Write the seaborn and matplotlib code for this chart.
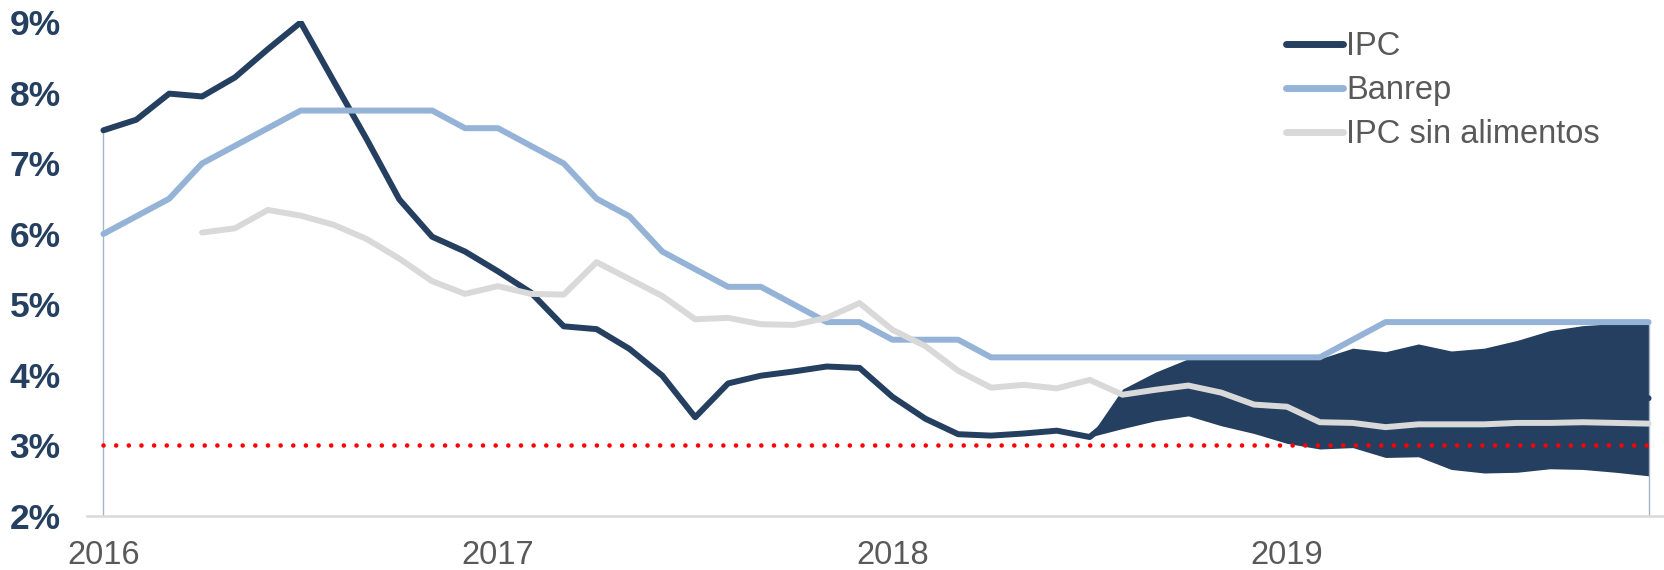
import numpy as np
import pandas as pd
import seaborn as sns
import matplotlib.pyplot as plt

# monthly, Jan 2016 .. Dec 2019
months = pd.date_range("2016-01-01", "2019-12-01", freq="MS")
year_labels = ["2016", "2017", "2018", "2019"]
year_ticks = [0, 12, 24, 36]

ipc = [7.47, 7.62, 7.99, 7.95, 8.22, 8.62, 9.00, 8.17, 7.35, 6.49, 5.96, 5.75,
       5.47, 5.17, 4.69, 4.65, 4.37, 3.99, 3.40, 3.88, 3.99, 4.05, 4.12, 4.10,
       3.69, 3.38, 3.16, 3.14, 3.17, 3.21, 3.12, 3.50, 3.70, 3.85, 3.75, 3.70,
       3.65, 3.60, 3.65, 3.60, 3.65, 3.60, 3.60, 3.62, 3.65, 3.67, 3.67, 3.67]

banrep = [6.00, 6.25, 6.50, 7.00, 7.25, 7.50, 7.75, 7.75, 7.75, 7.75, 7.75, 7.50,
          7.50, 7.25, 7.00, 6.50, 6.25, 5.75, 5.50, 5.25, 5.25, 5.00, 4.75, 4.75,
          4.50, 4.50, 4.50, 4.25, 4.25, 4.25, 4.25, 4.25, 4.25, 4.25, 4.25, 4.25,
          4.25, 4.25, 4.50, 4.75, 4.75, 4.75, 4.75, 4.75, 4.75, 4.75, 4.75, 4.75]

ipc_sin_alim = [np.nan, np.nan, np.nan, 6.02, 6.08, 6.34, 6.26, 6.13, 5.93, 5.65, 5.33, 5.15,
                5.26, 5.15, 5.14, 5.60, 5.36, 5.12, 4.79, 4.81, 4.72, 4.71, 4.81, 5.02,
                4.64, 4.41, 4.06, 3.82, 3.86, 3.81, 3.93, 3.72, 3.79, 3.85, 3.75, 3.58,
                3.55, 3.33, 3.32, 3.26, 3.30, 3.30, 3.30, 3.32, 3.32, 3.33, 3.32, 3.31]

# forecast fan, from Jul 2018 (index 30) to Dec 2019
fan_start = 30
fan_low = [3.12, 3.24, 3.35, 3.42, 3.28, 3.17, 3.03, 2.95, 2.97, 2.83, 2.84, 2.66,
           2.61, 2.62, 2.67, 2.66, 2.62, 2.57]
fan_high = [3.12, 3.80, 4.04, 4.23, 4.23, 4.23, 4.23, 4.23, 4.38, 4.33, 4.44, 4.34,
            4.38, 4.49, 4.63, 4.70, 4.73, 4.73]

meta = 3.0

navy = "#253F60"
light_blue = "#95B3D7"
grey = "#D9D9D9"
text_grey = "#595959"

sns.set_style("white")
plt.rcParams["font.family"] = ["Liberation Sans", "DejaVu Sans"]

df = pd.DataFrame({"t": np.arange(len(months)), "IPC": ipc, "Banrep": banrep,
                   "IPC sin alimentos": ipc_sin_alim})
df["meta"] = meta

fig = plt.figure(figsize=(16.65, 5.70), dpi=100)
ax = fig.add_axes([87 / 1665, 54 / 570, 1 - 87 / 1665, (516 - 21) / 570])

fan_x = df["t"].values[fan_start:]
ax.fill_between(fan_x, fan_low, fan_high, color=navy, lw=0, zorder=1)

# thin drop lines at both ends
ax.vlines(0, 2, ipc[0], color="#A7B5C9", lw=1, zorder=1)
ax.vlines(len(months) - 1, 2, fan_high[-1], color="#A7B5C9", lw=1, zorder=1)

line_w = 4.3
sns.lineplot(data=df, x="t", y="IPC", ax=ax, color=navy, linewidth=line_w,
             label="IPC", zorder=3, solid_capstyle="round")
sns.lineplot(data=df, x="t", y="Banrep", ax=ax, color=light_blue, linewidth=line_w,
             label="Banrep", zorder=4, solid_capstyle="round")
sns.lineplot(data=df.dropna(), x="t", y="IPC sin alimentos", ax=ax, color=grey,
             linewidth=line_w, label="IPC sin alimentos", zorder=5,
             solid_capstyle="round")

# inflation target, dotted
ax.plot(df["t"], df["meta"], color="red", linewidth=3.3, ls=(0, (0.01, 2.75)),
        dash_capstyle="round", zorder=6)

ax.set_xlim(-0.5, len(months) - 0.5)
ax.set_ylim(2, 9.02)
ax.set_xlabel("")
ax.set_ylabel("")

ax.set_yticks(range(2, 10))
ax.set_yticklabels([f"{v}%" for v in range(2, 10)], fontsize=25.5,
                   fontweight="bold", color=navy)
ax.set_xticks(year_ticks)
ax.set_xticklabels(year_labels, fontsize=23.5, color=text_grey)
ax.tick_params(axis="y", length=0, pad=19)
ax.tick_params(axis="x", length=0, pad=17)

for s in ["top", "right", "left"]:
    ax.spines[s].set_visible(False)
ax.spines["bottom"].set_color(grey)
ax.spines["bottom"].set_linewidth(1.8)
for lab in ax.get_yticklabels():
    lab.set_clip_on(False)

leg = ax.legend(loc="upper left", bbox_to_anchor=(1286 / 1665, 1 - 31 / 570),
                bbox_transform=fig.transFigure, frameon=False, fontsize=23.5,
                handlelength=1.75, handletextpad=0.1, labelspacing=0.4,
                borderpad=0, borderaxespad=0)
for t in leg.get_texts():
    t.set_color(text_grey)
for h in leg.get_lines():
    h.set_linewidth(5)
    h.set_solid_capstyle("round")

fig.savefig("out.png", dpi=100)
